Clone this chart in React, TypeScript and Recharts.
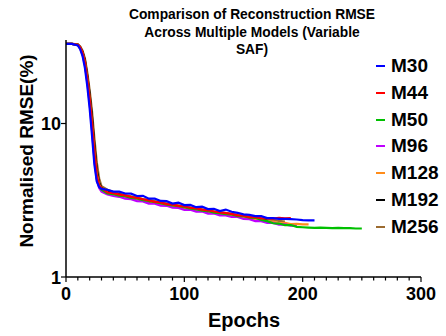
import React from "react";
import { LineChart, Line, XAxis, YAxis } from "recharts";

// epochs shared by all runs (each run stops at its own length)
const EPOCHS = [
  0, 5, 10, 12, 14, 16, 18, 20, 22, 24, 26, 28, 30,
  35, 40, 45, 50, 55, 60, 65, 70, 75, 80, 85, 90, 95, 100,
  105, 110, 115, 120, 125, 130, 135, 140, 145, 150, 155, 160,
  165, 170, 175, 180, 185, 190, 195, 200, 205, 210, 215, 220,
  225, 230, 235, 240, 245, 250,
];

const M30 = [
  33, 33, 32.3, 30.5, 27.5, 23, 17.5, 12.5, 8.3, 5.4, 4.2, 3.85, 3.75,
  3.7, 3.6, 3.6, 3.5, 3.49, 3.37, 3.38, 3.24, 3.24, 3.13, 3.12, 3.01, 3.05, 2.94,
  2.95, 2.85, 2.87, 2.77, 2.78, 2.69, 2.75, 2.66, 2.62, 2.56, 2.54, 2.49,
  2.49, 2.42, 2.42, 2.39, 2.39, 2.38, 2.37, 2.35, 2.34, 2.34,
];
const M44 = [
  33, 33, 32.6, 31.3, 29, 25, 19.5, 14.5, 10, 6.5, 4.6, 3.95, 3.8,
  3.55, 3.52, 3.44, 3.4, 3.32, 3.28, 3.21, 3.16, 3.09, 3.06, 2.98, 2.96, 2.91, 2.88,
  2.82, 2.8, 2.75, 2.72, 2.67, 2.64, 2.61, 2.58, 2.52, 2.51, 2.45, 2.45,
  2.41, 2.41, 2.4, 2.43, 2.41, 2.42,
];
const M50 = [
  33, 33, 32.5, 31, 28.5, 24.5, 19, 14, 9.5, 6, 4.4, 3.9, 3.7,
  3.5, 3.47, 3.39, 3.36, 3.27, 3.25, 3.17, 3.13, 3.07, 3.03, 2.96, 2.93, 2.89, 2.85,
  2.79, 2.77, 2.71, 2.69, 2.63, 2.61, 2.57, 2.56, 2.49, 2.49, 2.44, 2.43,
  2.35, 2.31, 2.24, 2.23, 2.18, 2.18, 2.12, 2.11, 2.1, 2.09, 2.1, 2.09,
  2.08, 2.09, 2.08, 2.08, 2.07, 2.07,
];
const M96 = [
  33, 33, 32.4, 30.8, 28, 24, 18.5, 13.5, 9, 5.8, 4.3, 3.8, 3.6,
  3.45, 3.37, 3.33, 3.24, 3.21, 3.12, 3.11, 3.01, 3.0, 2.92, 2.91, 2.83, 2.82, 2.74,
  2.74, 2.67, 2.67, 2.59, 2.59, 2.52, 2.52, 2.46, 2.46, 2.39, 2.38, 2.31,
  2.31, 2.25, 2.25, 2.19, 2.2, 2.16, 2.15,
];
const M128 = [
  33, 33, 32.6, 31.2, 28.8, 25, 19.5, 14.5, 10, 6.6, 4.7, 4.0, 3.75,
  3.55, 3.48, 3.41, 3.35, 3.29, 3.23, 3.17, 3.11, 3.06, 3.01, 2.96, 2.91, 2.86, 2.82,
  2.78, 2.74, 2.7, 2.66, 2.62, 2.59, 2.55, 2.51, 2.48, 2.44, 2.41, 2.37,
  2.35, 2.3, 2.3, 2.24, 2.25, 2.21, 2.22, 2.2, 2.2,
];
const M192 = [
  33, 33, 32.7, 31.5, 29.3, 25.8, 20.5, 15.5, 11, 7.2, 5, 4.1, 3.8,
  3.6, 3.5, 3.44, 3.36, 3.3, 3.22, 3.18, 3.1, 3.06, 3.0, 2.96, 2.9, 2.87, 2.81,
  2.78, 2.73, 2.7, 2.65, 2.62, 2.58, 2.55, 2.5, 2.48, 2.44, 2.42, 2.38,
  2.36, 2.33,
];
const M256 = [
  33, 33, 32.8, 31.8, 29.8, 26.5, 21.5, 16.5, 12, 8, 5.6, 4.4, 3.9,
  3.7, 3.58, 3.5, 3.42, 3.36, 3.3, 3.22, 3.18, 3.12, 3.06, 3.02, 2.96, 2.93, 2.87,
  2.84, 2.79, 2.76, 2.71, 2.68, 2.64, 2.62, 2.58, 2.54, 2.5, 2.47, 2.43,
  2.4, 2.37, 2.35, 2.32, 2.3,
];

const MODELS = ["M30", "M44", "M50", "M96", "M128", "M192", "M256"];
const COLORS = ["#0000ff", "#ff0000", "#00c000", "#bf00ff", "#ff8c1a", "#000000", "#9c6b30"];
const VALUES = [M30, M44, M50, M96, M128, M192, M256];

const X_LABELS = [0, 100, 200, 300];
const X_MINOR = Array.from({ length: 31 }, (_, i) => i * 10);
const Y_TICKS = [1, 10];

const FONT = "'Liberation Sans', Arial, sans-serif";

const toData = (vals: number[]) => vals.map((v, i) => ({ epoch: EPOCHS[i], rmse: v }));

const XTick = (props: any) => {
  const { x, y, payload } = props;
  const major = X_LABELS.includes(payload.value);
  return (
    <g>
      <line x1={x} x2={x} y1={y} y2={y + (major ? 5 : 3.5)} stroke="#000" strokeWidth={1.2} />
      {major && (
        <text x={x} y={y + 23} textAnchor="middle" fontFamily={FONT} fontWeight="bold" fontSize={18} fill="#000">
          {payload.value}
        </text>
      )}
    </g>
  );
};

const YTick = (props: any) => {
  const { x, y, payload } = props;
  return (
    <g>
      <line x1={x} x2={x - 5} y1={y} y2={y} stroke="#000" strokeWidth={1.2} />
      <text x={x - 5} y={y + 6.5} textAnchor="end" fontFamily={FONT} fontWeight="bold" fontSize={18} fill="#000">
        {payload.value}
      </text>
    </g>
  );
};

export default function App() {
  return (
    <div style={{ position: "absolute", left: 0, top: 0, width: 446, height: 336, background: "#fff", fontFamily: FONT }}>
      <LineChart width={446} height={336} margin={{ top: 40, right: 25, bottom: 0, left: 26 }}>
        <XAxis
          type="number"
          dataKey="epoch"
          domain={[0, 300]}
          ticks={X_MINOR}
          interval={0}
          tickSize={0}
          tickMargin={0}
          tick={<XTick />}
          tickLine={false}
          axisLine={{ stroke: "#000", strokeWidth: 1.5 }}
          height={59}
          allowDataOverflow
        />
        <YAxis
          type="number"
          scale="log"
          domain={[1, 35]}
          ticks={Y_TICKS}
          interval={0}
          tickSize={0}
          tickMargin={0}
          tick={<YTick />}
          tickLine={false}
          axisLine={{ stroke: "#000", strokeWidth: 1.5 }}
          width={40}
          allowDataOverflow
        />
        {MODELS.map((m, i) => i).reverse().map((i) => (
          <Line
            key={MODELS[i]}
            data={toData(VALUES[i])}
            dataKey="rmse"
            name={MODELS[i]}
            type="linear"
            stroke={COLORS[i]}
            strokeWidth={2.2}
            dot={false}
            isAnimationActive={false}
          />
        ))}
      </LineChart>

      <div style={{ position: "absolute", left: 252, top: 6, transform: "translateX(-50%)", whiteSpace: "nowrap", textAlign: "center", fontWeight: "bold", fontSize: 13.8, lineHeight: "17.5px", color: "#000" }}>
        Comparison of Reconstruction RMSE<br />Across Multiple Models (Variable<br />SAF)
      </div>

      <div style={{ position: "absolute", left: 27, top: 151, transform: "translate(-50%, -50%) rotate(-90deg)", whiteSpace: "nowrap", fontWeight: "bold", fontSize: 19, color: "#000" }}>
        Normalised RMSE(%)
      </div>

      <div style={{ position: "absolute", left: 244, top: 320, transform: "translate(-50%, -50%)", whiteSpace: "nowrap", fontWeight: "bold", fontSize: 20, color: "#000" }}>
        Epochs
      </div>

      {MODELS.map((m, i) => (
        <div key={m} style={{ position: "absolute", left: 376, top: 66 + i * 26.8, transform: "translateY(-50%)", display: "flex", alignItems: "center", whiteSpace: "nowrap" }}>
          <div style={{ width: 9, height: 2, background: COLORS[i], marginRight: 6 }} />
          <span style={{ fontWeight: "bold", fontSize: 19, color: "#000", lineHeight: "22px" }}>{m}</span>
        </div>
      ))}
    </div>
  );
}
